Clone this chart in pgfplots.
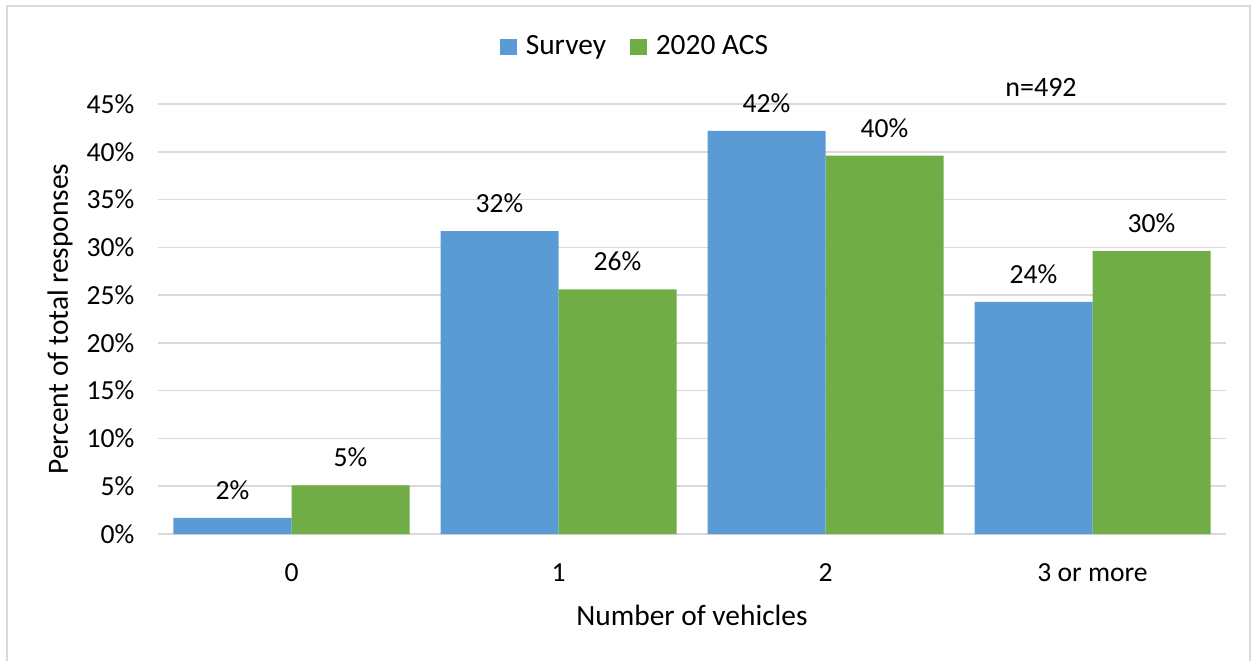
\documentclass[border=0pt]{standalone}
\usepackage{fontspec}
\setmainfont{Carlito}
\usepackage{pgfplots}
\pgfplotsset{compat=1.18}
\definecolor{sblue}{HTML}{5B9BD5}
\definecolor{sgreen}{HTML}{70AD47}
\definecolor{gridc}{HTML}{D9D9D9}
\begin{document}
\fontsize{13.8pt}{16pt}\selectfont
\begin{tikzpicture}[x=1pt,y=1pt]
\useasboundingbox (0,0) rectangle (626,330);
\draw[gridc, line width=1pt] (3.5,-5) rectangle (625,327);
\begin{axis}[
  at={(79pt,63pt)}, anchor=south west, scale only axis,
  width=534pt, height=215pt,
  font=\fontsize{13.8pt}{16pt}\selectfont,
  /pgf/number format/assume math mode=true,
  ybar=0pt, bar width=59pt,
  xmin=-0.5, xmax=3.5, ymin=0, ymax=45,
  ytick={0,5,...,45},
  yticklabel={\pgfmathprintnumber{\tick}\%},
  xtick={0,1,2,3}, xticklabels={0,1,2,3 or more},
  axis line style={draw=none}, major tick length=0pt,
  ymajorgrids, grid style={gridc, line width=0.8pt},
  yticklabel style={xshift=-7pt},
  xticklabel style={yshift=-10pt},
  xlabel={Number of vehicles},
  ylabel={Percent of total responses},
  every axis x label/.style={at={(axis description cs:0.5,0)}, anchor=center, yshift=-40.5pt, font=\fontsize{14.7pt}{17pt}\selectfont},
  every axis y label/.style={at={([xshift=-49pt]axis description cs:0,0.5)}, rotate=90, anchor=center, font=\fontsize{14.7pt}{17pt}\selectfont},
  nodes near coords={\pgfmathprintnumber[fixed,precision=0]{\pgfplotspointmeta}\%},
  nodes near coords style={anchor=south, yshift=4.3pt, text=black},
  legend style={at={(axis description cs:0.4476,1)}, anchor=center, yshift=28.5pt, draw=none, fill=none, legend columns=2,
    font=\fontsize{14.7pt}{17pt}\selectfont,
    /tikz/every odd column/.append style={column sep=2.5pt},
    /tikz/every even column/.append style={column sep=10pt}},
  legend image code/.code={\fill[#1] (0pt,-4.2pt) rectangle (8.4pt,4.2pt);},
  clip=false,
]
\addplot[fill=sblue, draw=none] coordinates {(0,1.7) (1,31.7) (2,42.2) (3,24.3)};
\addplot[fill=sgreen, draw=none] coordinates {(0,5.1) (1,25.6) (2,39.6) (3,29.6)};
\legend{Survey, 2020 ACS}
\node[font=\fontsize{14pt}{16pt}\selectfont] at (rel axis cs:0.8268,1) [yshift=8.5pt] {n=492};
\end{axis}
\end{tikzpicture}
\end{document}
